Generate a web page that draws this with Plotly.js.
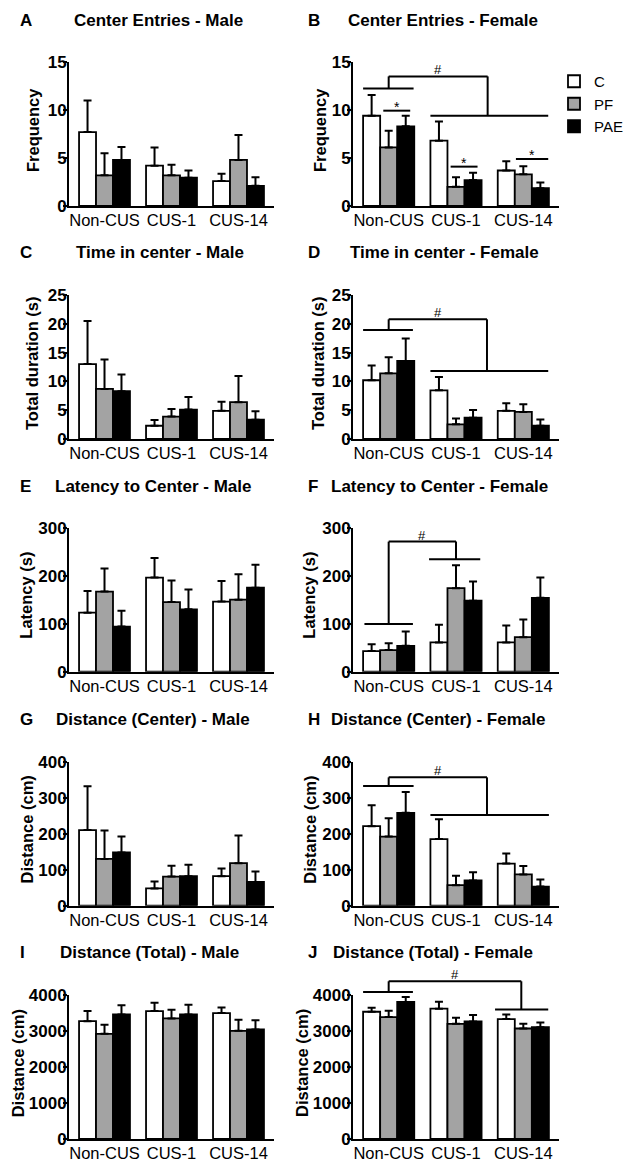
<!DOCTYPE html>
<html><head><meta charset="utf-8">
<script src="https://cdn.plot.ly/plotly-3.0.1.min.js"></script>
<style>html,body{margin:0;padding:0;background:#fff}#chart{width:624px;height:1161px}</style>
</head><body><div id="chart"></div>
<script>
// ---------- data ----------
const categories = ['Non-CUS', 'CUS-1', 'CUS-14'];
const groups = ['C', 'PF', 'PAE'];
const groupColors = ['#ffffff', '#a3a3a3', '#000000'];

// rows: C, PF, PAE ; columns: Non-CUS, CUS-1, CUS-14
const entriesMaleMean   = [[7.7, 4.2, 2.6], [3.2, 3.2, 4.8], [4.8, 2.95, 2.1]];
const entriesMaleSem    = [[3.3, 1.9, 0.75], [2.3, 1.1, 2.6], [1.35, 0.75, 0.9]];
const entriesFemaleMean = [[9.4, 6.8, 3.7], [6.1, 2.0, 3.3], [8.3, 2.7, 1.85]];
const entriesFemaleSem  = [[2.15, 2.0, 0.95], [1.75, 1.0, 0.85], [1.1, 0.77, 0.6]];
const timeMaleMean      = [[13.0, 2.3, 4.9], [8.7, 3.9, 6.4], [8.3, 5.1, 3.35]];
const timeMaleSem       = [[7.5, 1.0, 1.55], [5.1, 1.3, 4.55], [2.9, 2.2, 1.45]];
const timeFemaleMean    = [[10.2, 8.45, 4.9], [11.4, 2.55, 4.7], [13.55, 3.7, 2.3]];
const timeFemaleSem     = [[2.55, 2.3, 1.3], [2.8, 1.0, 1.35], [3.9, 1.35, 1.1]];
const latencyMaleMean   = [[123, 196, 146], [167, 145, 150], [94, 130, 175]];
const latencyMaleSem    = [[45, 41, 43], [48, 45, 53], [33, 41, 48]];
const latencyFemaleMean = [[43, 61, 61], [45, 174, 72], [54, 148, 154]];
const latencyFemaleSem  = [[14, 37, 35], [14.5, 48, 37], [30, 40, 42]];
const distCenterMaleMean   = [[210, 48, 82], [130, 81, 118], [148, 82, 66]];
const distCenterMaleSem    = [[122, 19, 21], [79, 30, 77], [44, 32, 29]];
const distCenterFemaleMean = [[221, 185, 117], [192, 57, 87], [258, 70, 53]];
const distCenterFemaleSem  = [[58, 55, 28], [51, 26, 23], [58, 23, 20]];
const distTotalMaleMean    = [[3274, 3553, 3498], [2921, 3349, 3005], [3460, 3460, 3042]];
const distTotalMaleSem     = [[279, 233, 158], [251, 242, 307], [252, 270, 260]];
const distTotalFemaleMean  = [[3535, 3619, 3330], [3386, 3200, 3070], [3805, 3265, 3107]];
const distTotalFemaleSem   = [[112, 195, 130], [177, 167, 130], [139, 177, 130]];

const panelLetters = ['A', 'B', 'C', 'D', 'E', 'F', 'G', 'H', 'I', 'J'];
const panelTitles = ['Center Entries - Male', 'Center Entries - Female',
  'Time in center - Male', 'Time in center - Female',
  'Latency to Center - Male', 'Latency to Center - Female',
  'Distance (Center) - Male', 'Distance (Center) - Female',
  'Distance (Total) - Male', 'Distance (Total) - Female'];
const yTitles = ['Frequency', 'Frequency', 'Total duration (s)', 'Total duration (s)',
  'Latency (s)', 'Latency (s)', 'Distance (cm)', 'Distance (cm)', 'Distance (cm)', 'Distance (cm)'];
const yMax = [15, 15, 25, 25, 300, 300, 400, 400, 4000, 4000];
const yDtick = [5, 5, 5, 5, 100, 100, 100, 100, 1000, 1000];
const means = [entriesMaleMean, entriesFemaleMean, timeMaleMean, timeFemaleMean,
  latencyMaleMean, latencyFemaleMean, distCenterMaleMean, distCenterFemaleMean,
  distTotalMaleMean, distTotalFemaleMean];
const sems = [entriesMaleSem, entriesFemaleSem, timeMaleSem, timeFemaleSem,
  latencyMaleSem, latencyFemaleSem, distCenterMaleSem, distCenterFemaleSem,
  distTotalMaleSem, distTotalFemaleSem];

// significance brackets: panel, group line [x0,x1,y], target line [x0,x1,y], top y, left x, right x
const hashBrackets = [
  {panel: 1, g: [-0.38, 0.37, 12.25], t: [0.62, 2.37, 9.4], top: 13.5, xl: 0, xr: 1.47},
  {panel: 3, g: [-0.38, 0.36, 18.92], t: [0.62, 2.37, 11.8], top: 20.78, xl: 0, xr: 1.46},
  {panel: 5, g: [-0.36, 0.36, 99.3], t: [0.6, 1.36, 234.5], top: 271, xl: 0, xr: 1.0},
  {panel: 7, g: [-0.38, 0.37, 332.4], t: [0.62, 2.38, 251.9], top: 356.5, xl: 0, xr: 1.46},
  {panel: 9, g: [-0.38, 0.36, 4084], t: [1.58, 2.37, 3600], top: 4381, xl: 0, xr: 1.97}
];
// star lines: panel, x0, x1, y
const starLines = [[1, -0.08, 0.32, 9.93], [1, 0.92, 1.32, 4.1], [1, 1.89, 2.37, 4.9]];

// ---------- layout geometry (pixels) ----------
const W = 624, H = 1161;
const colX = [[69, 274], [353, 559]];
const rowTop = [62, 295, 527.7, 761.7, 995];
const plotH = 144;
const titleY = [20.5, 252.7, 486.7, 719.3, 952.5];
const titleX = [158, 443, 160, 444, 153.5, 439, 153, 438, 149, 433];
const letterX = [18, 306];
const yTitleX = [33, 320, 32, 318, 26, 309, 26.7, 310, 18.3, 302];

const FONT = 'Liberation Sans, Arial, Helvetica, sans-serif';
const px2x = p => p / W;
const px2y = p => 1 - p / H;

const traces = [];
const layout = {
  width: W, height: H,
  margin: {l: 0, r: 0, t: 0, b: 0, autoexpand: false},
  paper_bgcolor: '#fff', plot_bgcolor: 'rgba(0,0,0,0)',
  font: {family: FONT, color: '#000'},
  barmode: 'group', bargap: 0.24, bargroupgap: 0,
  showlegend: true,
  legend: {x: px2x(554), y: px2y(65), xanchor: 'left', yanchor: 'top', tracegroupgap: 0,
    font: {family: FONT, size: 15, color: '#000'}, bgcolor: 'rgba(0,0,0,0)', borderwidth: 0},
  annotations: [], shapes: []
};

for (let i = 0; i < 10; i++) {
  const col = i % 2, row = Math.floor(i / 2);
  const sfx = i === 0 ? '' : String(i + 1);
  const xa = 'x' + sfx, ya = 'y' + sfx;
  layout['xaxis' + sfx] = {
    domain: [px2x(colX[col][0]), px2x(colX[col][1])],
    anchor: ya, type: 'category', categoryorder: 'array', categoryarray: categories,
    range: [-0.53, 2.53], showline: true, linewidth: 2, linecolor: '#000',
    ticks: '', showgrid: false, zeroline: false, fixedrange: true, ticklabelstandoff: -2,
    tickfont: {family: FONT, size: 16.5, color: '#000'}
  };
  layout['yaxis' + sfx] = {
    domain: [px2y(rowTop[row] + plotH), px2y(rowTop[row])],
    anchor: xa, range: [0, yMax[i]], dtick: yDtick[i], tick0: 0,
    showline: true, linewidth: 2, linecolor: '#000',
    ticks: 'outside', ticklen: 4, tickwidth: 2, tickcolor: '#000', ticklabelstandoff: -7,
    showgrid: false, zeroline: false, fixedrange: true,
    tickfont: {family: FONT, size: 17, color: '#000', weight: 'bold'}
  };
  for (let g = 0; g < 3; g++) {
    traces.push({
      type: 'bar', name: groups[g], x: categories, y: means[i][g],
      xaxis: xa, yaxis: ya, showlegend: i === 0,
      marker: {color: groupColors[g], line: {color: '#000', width: 1.8}},
      error_y: {type: 'data', symmetric: false, array: sems[i][g], arrayminus: [0, 0, 0],
        color: '#000', thickness: 2, width: 4},
      hoverinfo: 'skip'
    });
  }
  // panel title, letter and y-axis title
  layout.annotations.push({xref: 'paper', yref: 'paper', x: px2x(titleX[i]), y: px2y(titleY[row]),
    xanchor: 'center', yanchor: 'middle', showarrow: false, text: panelTitles[i],
    font: {family: FONT, size: 17, weight: 'bold', color: '#000'}});
  layout.annotations.push({xref: 'paper', yref: 'paper', x: px2x(letterX[col]), y: px2y(titleY[row]),
    xanchor: 'left', yanchor: 'middle', showarrow: false, text: panelLetters[i],
    font: {family: FONT, size: 17, weight: 'bold', color: '#000'}});
  layout.annotations.push({xref: 'paper', yref: 'paper', x: px2x(yTitleX[i]),
    y: px2y(rowTop[row] + plotH / 2 - 4), xanchor: 'center', yanchor: 'middle',
    textangle: -90, showarrow: false, text: yTitles[i],
    font: {family: FONT, size: 16.5, weight: 'bold', color: '#000'}});
}

function refs(p) {
  const sfx = p === 0 ? '' : String(p + 1);
  return {xref: 'x' + sfx, yref: 'y' + sfx + ' domain'};
}
function seg(p, x0, y0, x1, y1) {
  const r = refs(p);
  layout.shapes.push({type: 'line', xref: r.xref, yref: r.yref,
    x0: x0, x1: x1, y0: y0 / yMax[p], y1: y1 / yMax[p],
    line: {color: '#000', width: 2}});
}
hashBrackets.forEach(b => {
  const p = b.panel;
  seg(p, b.g[0], b.g[2], b.g[1], b.g[2]);
  seg(p, b.t[0], b.t[2], b.t[1], b.t[2]);
  seg(p, b.xl, b.g[2], b.xl, b.top);
  seg(p, b.xl, b.top, b.xr, b.top);
  seg(p, b.xr, b.top, b.xr, b.t[2]);
  const r = refs(p);
  layout.annotations.push({xref: r.xref, yref: r.yref, x: (b.xl + b.xr) / 2, y: b.top / yMax[p],
    yshift: 6.5, xanchor: 'center', yanchor: 'middle', showarrow: false, text: '#',
    font: {family: FONT, size: 13, color: '#000'}});
});
starLines.forEach(s => {
  const p = s[0];
  seg(p, s[1], s[3], s[2], s[3]);
  const r = refs(p);
  layout.annotations.push({xref: r.xref, yref: r.yref, x: (s[1] + s[2]) / 2, y: s[3] / yMax[p],
    yshift: 4, xanchor: 'center', yanchor: 'middle', showarrow: false, text: '*',
    font: {family: FONT, size: 14, color: '#000'}});
});

Plotly.newPlot('chart', traces, layout, {staticPlot: true, displayModeBar: false});
</script></body></html>
